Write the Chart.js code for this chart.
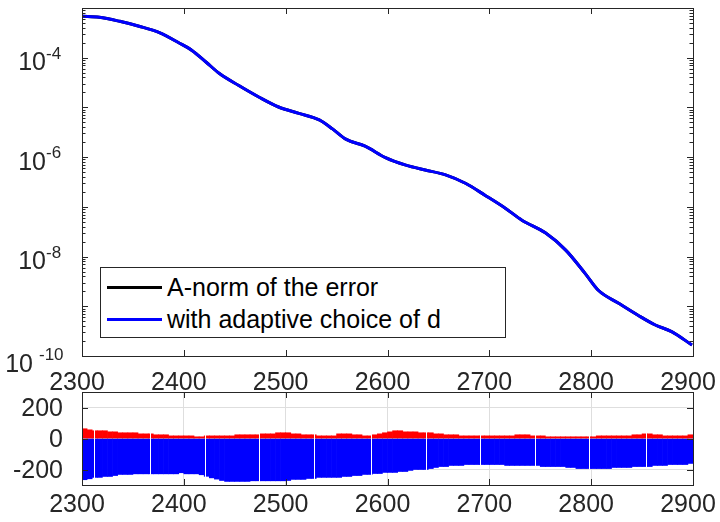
<!DOCTYPE html>
<html>
<head>
<meta charset="utf-8">
<script src="https://cdn.jsdelivr.net/npm/chart.js@4.4.1/dist/chart.umd.min.js"></script>
<style>
html,body{margin:0;padding:0;background:#fff;overflow:hidden;}
#wrap{position:relative;width:720px;height:522px;overflow:hidden;font-family:"Liberation Sans",Arial,sans-serif;}
#wrap canvas{position:absolute;left:0;top:0;}
#legend{position:absolute;left:100px;top:267px;width:404px;height:66px;padding-top:3px;border:1px solid #262626;background:#fff;}
.row{display:flex;align-items:center;height:32px;}
.sw{width:55px;height:3px;margin-left:6px;margin-right:5px;}
.lt{font-size:25px;line-height:32px;color:#000;white-space:nowrap;}
</style>
</head>
<body>
<div id="wrap">
  <canvas id="bottom" width="720" height="522"></canvas>
  <canvas id="top" width="720" height="522"></canvas>
  <div id="legend">
    <div class="row"><div class="sw" style="background:#000"></div><div class="lt">A-norm of the error</div></div>
    <div class="row"><div class="sw" style="background:#0000ff"></div><div class="lt">with adaptive choice of d</div></div>
  </div>
</div>
<script>
// ---------- data ----------
const seriesNames = ['A-norm of the error', 'with adaptive choice of d'];
// iteration numbers where the error curve was read
const curveIters = [2300,2317,2337,2356,2376,2395,2408,2422,2435,2454,2474,2493,2513,2533,2546,2559,2578,2598,2618,2637,2657,2677,2696,2716,2732,2755,2775,2794,2807,2827,2846,2863,2879,2899];
// A-norm of the error
const aNormError = [6.8e-4,6.5e-4,5.4e-4,4.3e-4,3.2e-4,2.0e-4,1.4e-4,8.1e-5,4.8e-5,2.75e-5,1.6e-5,1.02e-5,7.6e-6,5.6e-6,3.7e-6,2.3e-6,1.66e-6,9.8e-7,6.9e-7,5.5e-7,4.4e-7,2.95e-7,1.7e-7,9.3e-8,5.4e-8,3.0e-8,1.35e-8,4.6e-9,2.1e-9,1.15e-9,6.6e-10,4.2e-10,3.1e-10,1.66e-10];
// estimate with adaptive choice of d (coincides with the error at this scale)
const adaptiveEstimate = [6.8e-4,6.5e-4,5.4e-4,4.3e-4,3.2e-4,2.0e-4,1.4e-4,8.1e-5,4.8e-5,2.75e-5,1.6e-5,1.02e-5,7.6e-6,5.6e-6,3.7e-6,2.3e-6,1.66e-6,9.8e-7,6.9e-7,5.5e-7,4.4e-7,2.95e-7,1.7e-7,9.3e-8,5.4e-8,3.0e-8,1.35e-8,4.6e-9,2.1e-9,1.15e-9,6.6e-10,4.2e-10,3.1e-10,1.66e-10];

// lower panel: bins of 5 iterations starting at 2300
const binStart = 2300, binWidth = 5;
const positivePart = [63,56,50,50,50,43,43,37,37,37, 37,30,30,30,24,24,24,17,17,17, 17,17,11,11,17,17,17,17,17,17, 24,24,24,24,24,30,30,30,37,37,
  37,30,30,24,24,24,17,17,17,17, 30,30,30,24,24,17,17,24,30,37, 43,50,50,43,43,43,37,37,37,30, 30,24,24,24,17,17,17,17,17,17,
  17,17,17,17,17,24,24,24,17,17, 17,11,11,11,11,11,11,11,11,11, 11,17,17,17,17,17,17,17,24,24, 30,30,24,24,17,17,17,17,17,24];
const negativePart = [-266,-260,-251,-251,-245,-245,-239,-232,-232,-232, -228,-228,-228,-228,-228,-228,-228,-228,-228,-221, -228,-228,-228,-234,-244,-254,-262,-271,-277,-277, -277,-277,-277,-273,-273,-273,-273,-273,-273,-273,
  -271,-264,-264,-264,-258,-258,-251,-251,-251,-251, -251,-245,-245,-239,-239,-232,-232,-226,-226,-219, -219,-219,-213,-213,-206,-200,-200,-200,-194,-187, -181,-181,-174,-174,-174,-168,-168,-168,-168,-168,
  -168,-168,-168,-174,-174,-174,-174,-174,-174,-174, -181,-181,-181,-181,-181,-187,-187,-194,-194,-194, -194,-194,-194,-194,-187,-187,-187,-187,-181,-181, -181,-181,-174,-174,-174,-168,-168,-168,-168,-161];
// iterations where d was changed (thin white breaks in the bars)
const restartIters = [2312,2366.5,2420.5,2474,2528,2583.5,2637.5,2690.5,2744.5,2798,2853.5];

const xTicks = [2300,2400,2500,2600,2700,2800,2900];
const yLogExponents = [-4,-6,-8,-10];
const yBottomTicks = [-200,0,200];

// ---------- styling helpers ----------
const FONT = '"Liberation Sans", Arial, sans-serif';
const TXT = '#262626';
Chart.defaults.font.family = FONT;
const binCenters = positivePart.map((_, i) => binStart + binWidth * (i + 0.5));

function line(ctx, x1, y1, x2, y2) { ctx.beginPath(); ctx.moveTo(x1, y1); ctx.lineTo(x2, y2); ctx.stroke(); }
function noLabelPadding(s) { s.paddingLeft = 0; s.paddingRight = 0; s.paddingTop = 0; s.paddingBottom = 0; }

const framePlugin = {
  id: 'frame',
  afterDraw(chart, args, opts) {
    const { ctx, chartArea: { left, right, top, bottom } } = chart;
    const xs = chart.scales.x, ys = chart.scales.y;
    ctx.save();
    ctx.strokeStyle = TXT; ctx.lineWidth = 1;
    xTicks.forEach(v => {
      const p = Math.round(xs.getPixelForValue(v)) + 0.5;
      line(ctx, p, top, p, top + 6);
      line(ctx, p, bottom, p, bottom - 6);
    });
    if (opts.log) {
      const lo = Math.round(Math.log10(ys.min)), hi = Math.round(Math.log10(ys.max));
      for (let e = lo; e <= hi; e++) {
        for (let k = 1; k <= 9; k++) {
          const v = k * Math.pow(10, e);
          if (v < ys.min * 0.999 || v > ys.max * 1.001) continue;
          const p = Math.round(ys.getPixelForValue(v)) + 0.5;
          const len = k === 1 ? 6 : 3.5;
          line(ctx, left, p, left + len, p);
          line(ctx, right, p, right - len, p);
        }
      }
    } else {
      yBottomTicks.forEach(v => {
        const p = Math.round(ys.getPixelForValue(v)) + 0.5;
        line(ctx, left, p, left + 6, p);
        line(ctx, right, p, right - 6, p);
      });
    }
    ctx.strokeRect(left + 0.5, top + 0.5, right - left, bottom - top);
    ctx.restore();
  }
};

const logLabelPlugin = {
  id: 'logLabels',
  afterDraw(chart) {
    const ys = chart.scales.y, left = chart.chartArea.left, ctx = chart.ctx;
    ctx.save();
    ctx.fillStyle = TXT;
    ctx.textBaseline = 'alphabetic';
    yLogExponents.forEach(e => {
      const v = Math.pow(10, e);
      const py = ys.getPixelForValue(v);
      const atMin = v <= ys.min * 1.0001;
      const baseRight = left - (atMin ? 49 : 36);
      const expLeft = left - (atMin ? 43 : 36);
      const dy = atMin ? 3 : 0;
      ctx.font = '25px ' + FONT; ctx.textAlign = 'right';
      ctx.fillText('10', baseRight, py + 12.7 + dy);
      ctx.font = '17px ' + FONT; ctx.textAlign = 'left';
      ctx.fillText(String(e), expLeft, py + 1 + dy);
    });
    ctx.restore();
  }
};

const gapPlugin = {
  id: 'gaps',
  afterDatasetsDraw(chart) {
    const { ctx } = chart, xs = chart.scales.x, ys = chart.scales.y;
    ctx.save();
    ctx.fillStyle = '#ffffff';
    restartIters.forEach(r => {
      const i = Math.min(positivePart.length - 1, Math.floor((r - binStart) / binWidth));
      const idx = [i - 1, i, i + 1].filter(j => j >= 0 && j < positivePart.length);
      const hi = Math.max(...idx.map(j => positivePart[j]));
      const lo = Math.min(...idx.map(j => negativePart[j]));
      const px = Math.round(xs.getPixelForValue(r));
      const t = ys.getPixelForValue(hi), b = ys.getPixelForValue(lo);
      ctx.fillRect(px, t - 1, 1, b - t + 2);
    });
    ctx.restore();
  }
};

const tickFont = { family: FONT, size: 25 };

// ---------- top chart ----------
new Chart(document.getElementById('top'), {
  type: 'line',
  data: {
    datasets: [
      { label: seriesNames[0], order: 1, data: curveIters.map((x, i) => ({ x, y: aNormError[i] })),
        borderColor: '#000000', borderWidth: 3, pointRadius: 0, cubicInterpolationMode: 'monotone', fill: false },
      { label: seriesNames[1], order: 0, data: curveIters.map((x, i) => ({ x, y: adaptiveEstimate[i] })),
        borderColor: '#0000ff', borderWidth: 3, pointRadius: 0, cubicInterpolationMode: 'monotone', fill: false }
    ]
  },
  options: {
    responsive: false, animation: false, devicePixelRatio: 1,
    layout: { padding: { left: 82, right: 27, top: 8, bottom: 126 } },
    plugins: { legend: { display: false }, tooltip: { enabled: false }, frame: { log: true } },
    scales: {
      x: {
        type: 'linear', min: 2300, max: 2900,
        afterBuildTicks: s => { s.ticks = xTicks.map(v => ({ value: v })); },
        afterFit: s => { s.height = 40; noLabelPadding(s); },
        grid: { display: false }, border: { display: false },
        ticks: { font: tickFont, color: TXT, padding: 4, labelOffset: -5, maxRotation: 0, autoSkip: false, callback: v => String(v) }
      },
      y: { type: 'logarithmic', min: 1e-10, max: 1e-3, display: false }
    }
  },
  plugins: [framePlugin, logLabelPlugin]
});

// ---------- bottom chart ----------
new Chart(document.getElementById('bottom'), {
  type: 'bar',
  data: {
    datasets: [
      { data: binCenters.map((x, i) => ({ x, y: positivePart[i] })), backgroundColor: '#ff0000', borderWidth: 0,
        grouped: false, barPercentage: 1, categoryPercentage: 1 },
      { data: binCenters.map((x, i) => ({ x, y: negativePart[i] })), backgroundColor: '#0000ff', borderWidth: 0,
        grouped: false, barPercentage: 1, categoryPercentage: 1 }
    ]
  },
  options: {
    responsive: false, animation: false, devicePixelRatio: 1,
    layout: { padding: { left: 0, right: 27, top: 392, bottom: 7 } },
    plugins: { legend: { display: false }, tooltip: { enabled: false }, frame: { log: false } },
    scales: {
      x: {
        type: 'linear', min: 2300, max: 2900, offset: false,
        afterBuildTicks: s => { s.ticks = xTicks.map(v => ({ value: v })); },
        afterFit: s => { s.height = 30; noLabelPadding(s); },
        grid: { offset: false, color: '#dedede', drawTicks: false }, border: { display: false },
        ticks: { font: tickFont, color: TXT, padding: 5, labelOffset: -5, maxRotation: 0, autoSkip: false, callback: v => String(v) }
      },
      y: {
        type: 'linear', min: -300, max: 300,
        afterBuildTicks: s => { s.ticks = yBottomTicks.map(v => ({ value: v })); },
        afterFit: s => { s.width = 82; noLabelPadding(s); },
        grid: { color: '#dedede', drawTicks: false }, border: { display: false },
        ticks: { font: tickFont, color: TXT, padding: 19, labelOffset: 2, callback: v => String(v) }
      }
    }
  },
  plugins: [gapPlugin, framePlugin]
});
</script>
</body>
</html>
